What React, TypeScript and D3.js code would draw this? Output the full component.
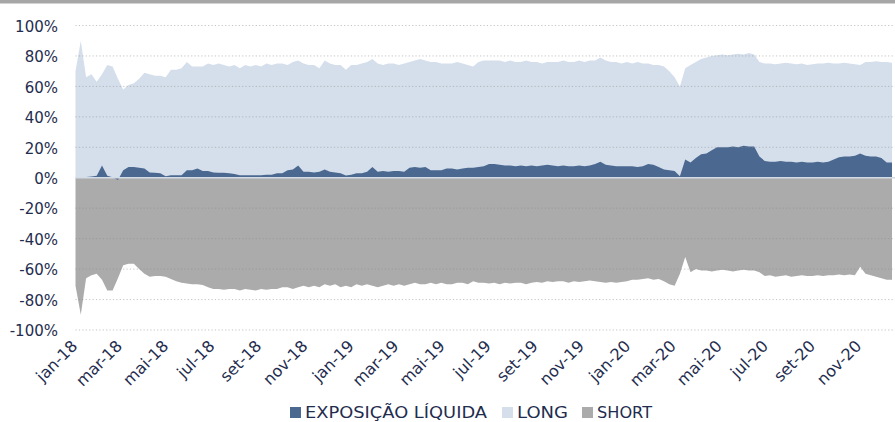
import * as d3 from "d3";
import { useEffect } from "react";

const WIDTH = 895;
const HEIGHT = 422;
const MARGIN = { top: 25.5, right: 3, bottom: 92, left: 75.5 };

// weekly readings, first week = 1 jan 2018 (percent of NAV)
const LONG = [
  70, 90, 66, 68, 63, 68, 74, 73, 65, 58,
  61, 62, 65, 69, 68, 67, 67, 66, 71, 71,
  72, 76, 73, 73, 73, 75, 74, 75, 74, 73,
  74, 72, 74, 73, 74, 73, 75, 74, 75, 75,
  74, 76, 77, 75, 74, 74, 72, 77, 75, 74,
  74, 71, 74, 74, 75, 76, 78, 75, 74, 75,
  75, 74, 75, 76, 77, 78, 77, 76, 76, 75,
  75, 75, 76, 75, 74, 73, 76, 77, 77, 77,
  77, 76, 77, 76, 76, 77, 76, 76, 75, 76,
  76, 76, 77, 76, 76, 77, 76, 77, 77, 79,
  77, 76, 76, 75, 76, 75, 76, 75, 75, 74,
  74, 73, 70, 66, 60, 72, 74, 76, 78, 79,
  80, 80.5, 81, 80.5, 81, 81.5, 81, 82, 81, 76,
  75, 75, 74.5, 75, 75.5, 75, 74.5, 75, 74, 74.5,
  75, 75, 75.5, 75, 75, 75.5, 75, 74.5, 74, 76,
  76, 76.5, 76, 76, 75.5,
];

const SHORT = [
  -71, -90, -66, -64, -63, -67, -74, -74, -66, -57.5,
  -56.5, -56.5, -60, -63, -65, -64.5, -64.5, -65, -66.5, -68,
  -69, -69.5, -70, -70, -70.5, -72, -73, -73, -73.5, -73,
  -73, -74, -73, -73.5, -74, -73, -73.5, -73, -73, -72,
  -72, -73, -72, -71, -72, -71, -72, -70, -71, -70,
  -72, -71, -72, -70, -71, -70, -71, -72, -71, -70,
  -71, -70, -71, -70, -69, -70, -70, -69, -70, -69,
  -70, -70, -69, -69, -70, -68, -69, -69, -69.5, -69,
  -70, -69, -69.5, -69, -69, -70, -69, -68.5, -69, -68,
  -68.5, -68, -68, -69, -68, -68.5, -68, -67.5, -68, -68.5,
  -69, -68.5, -69, -68.5, -68, -67, -67, -66.5, -66, -67,
  -66.5, -68, -70, -71, -63, -52, -62, -60, -61, -61,
  -61.5, -61, -60.5, -61, -61.5, -61, -60.5, -61, -61, -62,
  -64.5, -64, -65, -64.5, -64, -65, -64.5, -64, -64.5, -64.5,
  -64, -64.5, -64, -64, -63.5, -64, -63.5, -64, -58.5, -63,
  -64, -65, -66, -67, -67,
];

const NET = [
  0, 0.3, 0.5, 0.8, 1.3, 8, 1.3, 0.3, -1.5, 5,
  7, 7, 6.5, 6, 3.5, 3.3, 3, 1, 1.7, 1.7,
  1.7, 5, 5, 6, 4.5, 4.4, 3.5, 3.3, 3.3, 3,
  2.5, 1.7, 1.7, 1.7, 1.7, 1.7, 2, 2, 3, 3,
  5, 5.5, 8, 4, 4, 3.5, 4, 5.5, 4, 3.5,
  3, 1.5, 2, 3, 3, 4, 7, 4, 4.5, 4,
  4.5, 4.5, 4, 6.5, 7, 6.5, 7, 5, 5, 5,
  6, 6, 5.5, 6, 6.5, 6.5, 7, 7.5, 9, 9,
  8.5, 8, 8, 7.5, 8, 7.5, 8, 7.5, 8, 8.5,
  8, 7.5, 8, 7.5, 7.5, 8, 7.5, 8, 9, 10.5,
  8.5, 8, 7.5, 7.5, 7.5, 7.5, 7, 7.5, 9, 8.5,
  7, 5.5, 5, 4.5, 1, 12, 10, 13, 15.5, 16,
  18, 20, 20, 20, 20.5, 20, 21, 20.5, 20.5, 14,
  11, 10.5, 10.5, 11, 10.5, 10.5, 10, 10.5, 10, 10,
  10.5, 10, 10.5, 12, 13.5, 14, 14, 14.5, 16, 14.5,
  14, 14, 13, 10, 10,
];

const Y_TICKS = [100, 80, 60, 40, 20, 0, -20, -40, -60, -80, -100];
const MONTHS = ["jan", "fev", "mar", "abr", "mai", "jun", "jul", "ago", "set", "out", "nov", "dez"];

const SERIES_NAMES = ["EXPOSIÇÃO LÍQUIDA", "LONG", "SHORT"];
const COLORS = { net: "#4b6990", long: "#d5dfec", short: "#ababab" };

const FONT = "'Century Gothic', 'DejaVu Sans', sans-serif";
const TEXT = "#1f2d4f";

const start = new Date(2018, 0, 1);
const dates = LONG.map((_, i) => d3.timeDay.offset(start, i * 7));

export default function App() {
  useEffect(() => {
    document.body.style.margin = "0";
  }, []);

  const x = d3
    .scaleTime()
    .domain([dates[0], dates[dates.length - 1]])
    .range([MARGIN.left, WIDTH - MARGIN.right]);
  const y = d3
    .scaleLinear()
    .domain([-100, 100])
    .range([HEIGHT - MARGIN.bottom, MARGIN.top]);

  const area = d3
    .area<number>()
    .x((_, i) => x(dates[i]))
    .y0(y(0))
    .y1((d) => y(d));

  const xTicks = d3.timeMonth.every(2)!.range(dates[0], d3.timeDay.offset(dates[dates.length - 1], 1));

  const legend = [
    { name: SERIES_NAMES[0], color: COLORS.net, sx: 290, tx: 305, len: 182 },
    { name: SERIES_NAMES[1], color: COLORS.long, sx: 502, tx: 517, len: 51 },
    { name: SERIES_NAMES[2], color: COLORS.short, sx: 582, tx: 597, len: 55 },
  ];

  return (
    <svg width={WIDTH} height={HEIGHT} style={{ display: "block", background: "#fff" }} fontFamily={FONT}>
      <rect x={0} y={0} width={WIDTH} height={3.5} fill="#a6a6a6" />

      <path d={area(LONG) ?? ""} fill={COLORS.long} />
      <path d={area(SHORT) ?? ""} fill={COLORS.short} />
      <path d={area(NET) ?? ""} fill={COLORS.net} />

      {Y_TICKS.map((t) => (
        <g key={t}>
          {t !== 0 && (
            <line
              x1={MARGIN.left}
              x2={WIDTH}
              y1={y(t)}
              y2={y(t)}
              stroke="rgba(140,140,140,0.5)"
              strokeWidth={1}
              strokeDasharray="1.2,2.2"
            />
          )}
          <text x={58} y={y(t) + 1} dy="0.35em" textAnchor="end" fontSize={15} fill={TEXT}>
            {t}%
          </text>
        </g>
      ))}
      <line x1={MARGIN.left} x2={WIDTH} y1={y(0)} y2={y(0)} stroke="#d3dbe6" strokeWidth={1.3} />

      {xTicks.map((d) => (
        <text
          key={+d}
          transform={`translate(${x(d) + 3},347) rotate(-45)`}
          textAnchor="end"
          fontSize={16}
          fill={TEXT}
        >
          {`${MONTHS[d.getMonth()]}-${String(d.getFullYear()).slice(2)}`}
        </text>
      ))}

      {legend.map((l) => (
        <g key={l.name}>
          <rect x={l.sx} y={407} width={11} height={11} fill={l.color} />
          <text x={l.tx} y={418} fontSize={16.5} fill={TEXT} textLength={l.len} lengthAdjust="spacingAndGlyphs">
            {l.name}
          </text>
        </g>
      ))}
    </svg>
  );
}
